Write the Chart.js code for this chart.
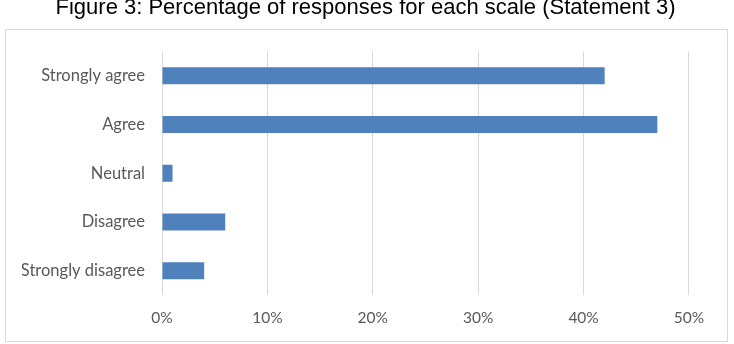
<!DOCTYPE html>
<html>
<head>
<meta charset="utf-8">
<script src="https://cdn.jsdelivr.net/npm/chart.js@4"></script>
<style>
  html, body { margin: 0; padding: 0; background: #fff; }
  #wrap { position: relative; width: 734px; height: 344px; }
  #frame {
    position: absolute; left: 5px; top: 29px; width: 723px; height: 313px;
    box-sizing: border-box; border: 1px solid #d9d9d9; pointer-events: none;
  }
</style>
</head>
<body>
<div id="wrap">
  <div id="frame"></div>
  <canvas id="chart" width="734" height="344"></canvas>
</div>
<script>
const TITLE = 'Figure 3: Percentage of responses for each scale (Statement 3)'
const categories = ['Strongly agree', 'Agree', 'Neutral', 'Disagree', 'Strongly disagree']
const percentages = [42, 47, 1, 6, 4]
const xTicks = [0, 10, 20, 30, 40, 50]

const BAR_COLOR = '#4f81bd'
const GRID_COLOR = '#d9d9d9'
const LABEL_COLOR = '#595959'

const data = {
    labels: categories,
    datasets: [{
        label: 'Percentage',
        data: percentages,
        backgroundColor: BAR_COLOR,
        borderWidth: 0,
        barPercentage: 0.35,
        categoryPercentage: 1.0
    }]
}

const config = {
    type: 'bar',
    data: data,
    options: {
        indexAxis: 'y',
        responsive: false,
        animation: false,
        layout: {
            padding: { top: 0, left: 22, right: 25, bottom: 0 }
        },
        plugins: {
            legend: { display: false },
            tooltip: { enabled: false },
            title: {
                display: true,
                text: TITLE,
                color: '#000',
                font: { family: 'Liberation Sans', size: 22, weight: 'normal', lineHeight: 1.2 },
                padding: { top: -5, bottom: 30 }
            }
        },
        scales: {
            x: {
                min: 0,
                // axis runs a bit past 50% (inside the frame) with no tick there
                max: 51.9,
                afterBuildTicks: function (scale) {
                    scale.ticks = xTicks.map(v => ({ value: v }))
                },
                afterFit: function (scale) {
                    scale.height = 48.8
                },
                ticks: {
                    color: LABEL_COLOR,
                    font: { family: 'Lato', size: 15.5 },
                    padding: 13,
                    callback: v => v + '%'
                },
                grid: {
                    color: GRID_COLOR,
                    lineWidth: 1,
                    drawTicks: false
                },
                border: { display: false }
            },
            y: {
                afterFit: function (scale) {
                    scale.width = 140
                },
                ticks: {
                    color: LABEL_COLOR,
                    font: { family: 'Lato', size: 16.5 },
                    padding: 17
                },
                grid: { display: false, drawTicks: false },
                border: { display: false }
            }
        }
    }
}

new Chart(document.getElementById('chart'), config)
</script>
</body>
</html>
